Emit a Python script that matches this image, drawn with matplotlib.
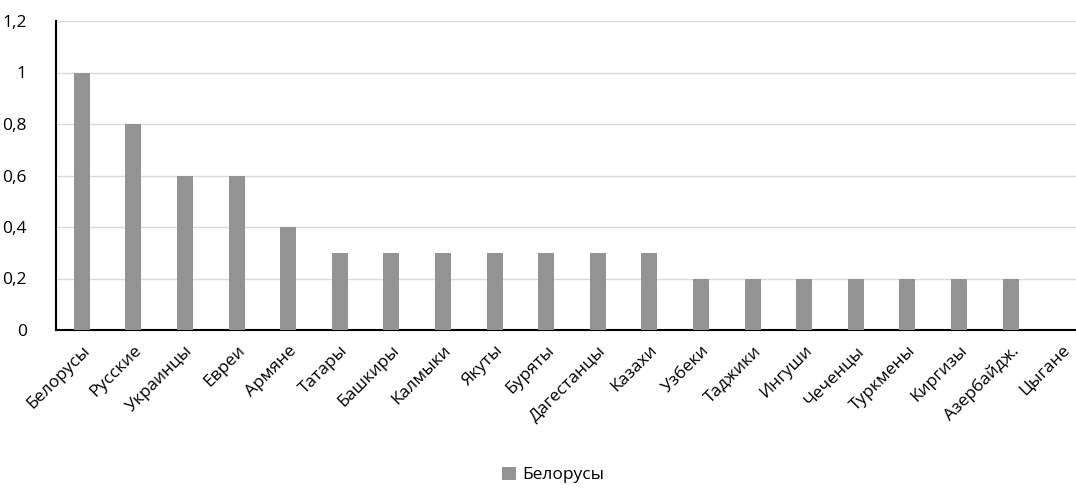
import numpy as np
import matplotlib.pyplot as plt

categories = ['Белорусы', 'Русские', 'Украинцы', 'Евреи', 'Армяне', 'Татары',
              'Башкиры', 'Калмыки', 'Якуты', 'Буряты', 'Дагестанцы', 'Казахи',
              'Узбеки', 'Таджики', 'Ингуши', 'Чеченцы', 'Туркмены', 'Киргизы',
              'Азербайдж.', 'Цыгане']
values = [1.0, 0.8, 0.6, 0.6, 0.4, 0.3, 0.3, 0.3, 0.3, 0.3, 0.3, 0.3,
          0.2, 0.2, 0.2, 0.2, 0.2, 0.2, 0.2, 0.0]
yticks = [0, 0.2, 0.4, 0.6, 0.8, 1.0, 1.2]
ytick_labels = ['0', '0,2', '0,4', '0,6', '0,8', '1', '1,2']

plt.rcParams['font.family'] = ['Open Sans', 'DejaVu Sans']

W, H = 1076, 488
fig = plt.figure(figsize=(W / 100, H / 100), dpi=100)
# plot area runs a little past the right edge, like the reference crop
left, right, top, bottom = 56, 1088, 21, 330
ax = fig.add_axes([left / W, 1 - bottom / H, (right - left) / W, (bottom - top) / H])

x = np.arange(len(categories))
bars = ax.bar(x, values, width=0.31, color='#939393', zorder=3, label='Белорусы')

ax.set_xlim(-0.5, len(categories) - 0.5)
ax.set_ylim(0, 1.2)
ax.set_yticks(yticks)
ax.set_yticklabels(ytick_labels, fontsize=12.5)
ax.set_xticks(x)
ax.set_xticklabels(categories, rotation=45, ha='right', rotation_mode='anchor', fontsize=12.5)
ax.tick_params(axis='both', length=0, colors='#000000')
ax.tick_params(axis='y', pad=21)
ax.tick_params(axis='x', pad=9)

ax.grid(axis='y', color='#d9d9d9', linewidth=1, zorder=0)
for s in ['top', 'right']:
    ax.spines[s].set_visible(False)
ax.spines['left'].set_linewidth(1.5)
ax.spines['bottom'].set_linewidth(1.5)

fig.legend(handles=[bars], labels=['Белорусы'], loc='center', bbox_to_anchor=(553 / W, 1 - 475 / H),
           frameon=False, fontsize=12.5, handlelength=0.8, handleheight=0.8, handletextpad=0.35)

fig.savefig('out.png', dpi=100)
